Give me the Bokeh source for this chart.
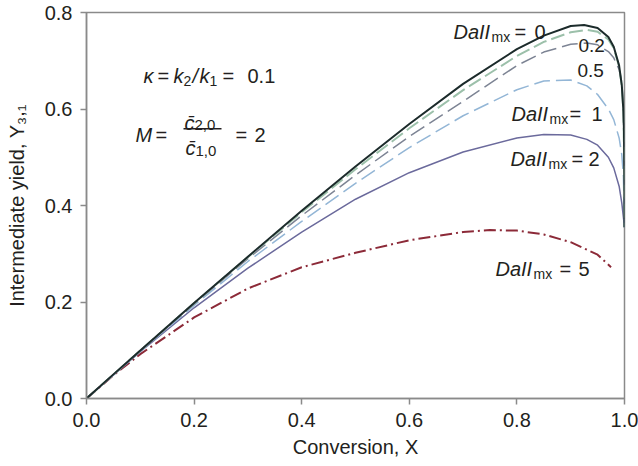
from bokeh.plotting import figure
from bokeh.models import Label, BoxAnnotation, FixedTicker
from bokeh.embed import file_html
from bokeh.resources import INLINE

# ---------------- data ----------------
x_da0 = [0, 0.05, 0.1, 0.2, 0.3, 0.4, 0.5, 0.6, 0.7, 0.8, 0.85, 0.9, 0.925, 0.95, 0.97, 0.98, 0.99, 0.995, 0.998, 0.999, 0.9999, 1.0]
y_da0 = [0, 0.050, 0.0995, 0.198, 0.294, 0.389, 0.481, 0.569, 0.652, 0.724, 0.752, 0.772, 0.774, 0.768, 0.749, 0.729, 0.690, 0.649, 0.595, 0.556, 0.442, 0.355]

x_da02 = [0, 0.1, 0.2, 0.3, 0.4, 0.5, 0.6, 0.7, 0.8, 0.85, 0.9, 0.93, 0.95, 0.97, 0.98, 0.99, 0.995, 0.998, 0.9999, 1.0]
y_da02 = [0, 0.0995, 0.1975, 0.293, 0.386, 0.475, 0.560, 0.639, 0.710, 0.739, 0.759, 0.764, 0.760, 0.744, 0.726, 0.688, 0.648, 0.595, 0.44, 0.355]

x_da05 = [0, 0.1, 0.2, 0.3, 0.4, 0.5, 0.6, 0.7, 0.8, 0.85, 0.9, 0.93, 0.95, 0.97, 0.98, 0.99, 0.995, 0.998, 0.9999, 1.0]
y_da05 = [0, 0.099, 0.196, 0.290, 0.379, 0.463, 0.543, 0.616, 0.690, 0.718, 0.734, 0.737, 0.733, 0.719, 0.706, 0.682, 0.655, 0.600, 0.44, 0.355]

x_da1 = [0, 0.1, 0.2, 0.3, 0.4, 0.5, 0.6, 0.7, 0.8, 0.85, 0.9, 0.93, 0.95, 0.97, 0.98, 0.99, 0.995, 0.998, 1.0]
y_da1 = [0, 0.098, 0.193, 0.284, 0.367, 0.446, 0.520, 0.586, 0.640, 0.658, 0.660, 0.648, 0.630, 0.600, 0.578, 0.540, 0.505, 0.460, 0.355]

x_da2 = [0, 0.1, 0.2, 0.3, 0.4, 0.5, 0.6, 0.7, 0.8, 0.85, 0.9, 0.93, 0.95, 0.97, 0.98, 0.99, 0.995, 1.0]
y_da2 = [0, 0.097, 0.188, 0.270, 0.345, 0.413, 0.468, 0.511, 0.540, 0.547, 0.546, 0.537, 0.525, 0.500, 0.478, 0.440, 0.405, 0.355]

x_da5 = [0, 0.05, 0.1, 0.2, 0.3, 0.4, 0.5, 0.6, 0.7, 0.75, 0.8, 0.85, 0.9, 0.95, 0.975]
y_da5 = [0, 0.048, 0.092, 0.168, 0.228, 0.272, 0.302, 0.328, 0.345, 0.349, 0.348, 0.340, 0.324, 0.298, 0.272]

x_ticks = [0.0, 0.2, 0.4, 0.6, 0.8, 1.0]
y_ticks = [0.0, 0.2, 0.4, 0.6, 0.8]

x_title = "Conversion, X"
y_title = "Intermediate yield, Y\u2083,\u2081"

# ---------------- layout ----------------
FONT = "Liberation Sans"
TXT = "#231f20"
AX = "#8a8a8a"
FL, FT, FW, FH = 86, 12, 538, 386   # frame position in picture pixels

p = figure(width=638, height=466, x_range=(0, 1), y_range=(0, 0.8),
           output_backend="svg", toolbar_location=None,
           min_border_left=FL, min_border_right=638 - FL - FW,
           min_border_top=FT, min_border_bottom=466 - FT - FH)
p.xgrid.visible = False
p.ygrid.visible = False
p.outline_line_color = AX
p.outline_line_width = 1.5
p.background_fill_color = "white"
p.border_fill_color = "white"

for ax, ticks, title in ((p.xaxis[0], x_ticks, x_title), (p.yaxis[0], y_ticks, y_title)):
    ax.ticker = FixedTicker(ticks=ticks)
    ax.minor_tick_line_color = None
    ax.major_tick_in = 0
    ax.major_tick_out = 6
    ax.axis_line_color = AX
    ax.axis_line_width = 1.5
    ax.major_tick_line_color = AX
    ax.major_tick_line_width = 1.5
    ax.major_label_text_font = FONT
    ax.major_label_text_font_size = "20px"
    ax.major_label_text_color = TXT
    ax.major_label_standoff = 8
    ax.major_label_overrides = {t: f"{t:.1f}" for t in ticks}
    ax.axis_label = title
    ax.axis_label_text_font = FONT
    ax.axis_label_text_font_size = "20px"
    ax.axis_label_text_font_style = "normal"
    ax.axis_label_text_color = TXT

p.xaxis[0].axis_label_standoff = 6
p.yaxis[0].axis_label_standoff = 14

# ---------------- curves ----------------
p.line(x_da5, y_da5, line_color="#8c2a38", line_width=2, line_dash="12 4 2 4")
p.line(x_da2, y_da2, line_color="#6b6a9c", line_width=1.5)
p.line(x_da1, y_da1, line_color="#93b6d6", line_width=1.5, line_dash="16 6")
p.line(x_da05, y_da05, line_color="#7d8494", line_width=1.5, line_dash="16 6")
p.line(x_da02, y_da02, line_color="#9cc0aa", line_width=2, line_dash="14 5")
p.line(x_da0, y_da0, line_color="#1c2b2b", line_width=2)


# ---------------- text helpers ----------------
def dx(px):
    return (px - FL) / FW


def dy(py):
    return (FT + FH - py) / (FH / 0.8)


def txt(px, py, s, size=20, style="normal", align="left"):
    p.add_layout(Label(x=dx(px), y=dy(py), text=s, x_units="data", y_units="data",
                       text_font=FONT, text_font_size=f"{size}px", text_font_style=style,
                       text_color=TXT, text_align=align, text_baseline="alphabetic"))


def dalabel(px, base, value, eq_px, val_px):
    txt(px, base, "DaII", 20, "italic")
    txt(px + 38, base + 5, "mx", 14)
    txt(eq_px, base, "=", 20)
    txt(val_px, base, value, 20)


dalabel(453, 31, "0", 514, 534)
txt(578, 45, "0.2", 19)
txt(577, 70, "0.5", 19)
dalabel(511, 113, "1", 569, 591)
dalabel(510, 158, "2", 571, 588)
dalabel(495, 268, "5", 559, 578)

# kappa line
txt(143, 75, "\u03ba", 20, "italic")
txt(157, 75, "=", 20)
txt(173, 75, "k", 20, "italic")
txt(183, 80, "2", 14)
txt(192, 75, "/", 20, "italic")
txt(199, 75, "k", 20, "italic")
txt(209, 80, "1", 14)
txt(222, 75, "=", 20)
txt(247, 75, "0.1", 20)

# M line
txt(135, 134, "M", 20, "italic")
txt(155, 134, "=", 20)
txt(184, 122, "c\u0304", 20, "italic")
txt(194, 124, "2,0", 15)
txt(185, 147, "c\u0304", 20, "italic")
txt(195, 150, "1,0", 15)
p.add_layout(BoxAnnotation(left=dx(183), right=dx(221), bottom=dy(129), top=dy(127.5),
                           fill_color=TXT, fill_alpha=1, line_color=None, level="overlay"))
txt(235, 134, "=", 20)
txt(254, 134, "2", 20)

open("out.html", "w").write(file_html(p, INLINE))
